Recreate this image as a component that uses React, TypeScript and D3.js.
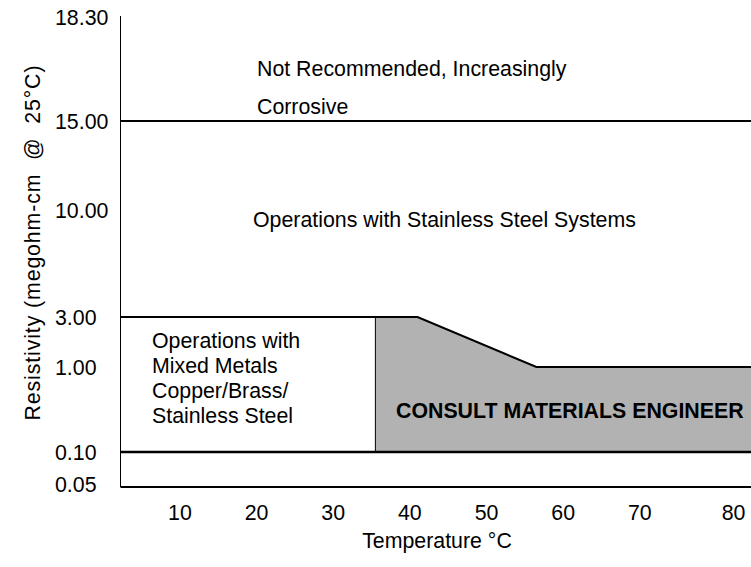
import React from "react";
import { scaleLinear, area, line } from "d3";

const width = 751;
const height = 567;
const plot = { left: 120.5, right: 751, top: 16, bottom: 487 };
const font = "'Liberation Sans', Arial, sans-serif";
const fontSize = 21.33;

// y axis is not linear: labels sit at fixed rows
const yTicks = [0.05, 0.1, 1, 3, 10, 15, 18.3];
const yTickLabels = ["0.05", "0.10", "1.00", "3.00", "10.00", "15.00", "18.30"];
const yRows = [484, 452, 367, 317, 210, 121, 17];

const xTicks = [10, 20, 30, 40, 50, 60, 70, 80];
const xDomain = [2.25, 84.5];

// consult zone outline (temperature, resistivity)
const consultTemps = [35.5, 41, 56.5, 84.5];
const consultResistivity = [3, 3, 1, 1];
const floorResistivity = 0.1;
const stainlessLimit = 15;
const mixedLimit = 3;

function App() {
  const x = scaleLinear().domain(xDomain).range([plot.left, plot.right]);
  const y = scaleLinear().domain(yTicks).range(yRows);

  const zone = consultTemps.map((t, i) => ({ t, r: consultResistivity[i] }));
  const zoneArea = area<{ t: number; r: number }>()
    .x(d => x(d.t))
    .y0(y(floorResistivity))
    .y1(d => y(d.r));
  const topEdge = line<{ t: number; r: number }>()
    .x(d => x(d.t))
    .y(d => y(d.r));
  const edgePts = [{ t: xDomain[0], r: mixedLimit }, ...zone.slice(1)];

  return (
    <svg width={width} height={height} style={{ position: "absolute", left: 0, top: 0, background: "#fff" }} fontFamily={font}>
      <path d={zoneArea(zone) || ""} fill="#b2b2b2" />
      <path d={topEdge(edgePts) || ""} fill="none" stroke="#000" strokeWidth={2} />
      <line x1={x(consultTemps[0])} x2={x(consultTemps[0])} y1={y(floorResistivity)} y2={y(mixedLimit)} stroke="#000" strokeWidth={1} />
      <line x1={plot.left} x2={plot.right} y1={y(stainlessLimit)} y2={y(stainlessLimit)} stroke="#000" strokeWidth={2} />
      <line x1={plot.left} x2={plot.right} y1={y(floorResistivity)} y2={y(floorResistivity)} stroke="#000" strokeWidth={2.5} />

      {/* axes */}
      <line x1={plot.left} x2={plot.left} y1={plot.top} y2={plot.bottom} stroke="#000" strokeWidth={1} />
      <line x1={plot.left} x2={plot.right} y1={plot.bottom} y2={plot.bottom} stroke="#000" strokeWidth={2} />

      {yTicks.map((v, i) => (
        <text key={v} x={55} y={y(v)} dy="0.36em" fontSize={fontSize} fill="#000">{yTickLabels[i]}</text>
      ))}
      {xTicks.map((v, i) => (
        <text key={v} x={x(v) + (i === xTicks.length - 1 ? 17 : 0)} y={520} textAnchor="middle" fontSize={fontSize} fill="#000">{v}</text>
      ))}

      <text x={437} y={548} textAnchor="middle" fontSize={fontSize}>Temperature °C</text>
      <text transform={`translate(40,243) rotate(-90)`} textAnchor="middle" fontSize={fontSize} textLength={355} lengthAdjust="spacing" style={{ whiteSpace: "pre" }}>Resistivity (megohm-cm  @  25°C)</text>

      <text x={257} y={76} fontSize={fontSize}>Not Recommended, Increasingly</text>
      <text x={257} y={114} fontSize={fontSize}>Corrosive</text>
      <text x={253} y={227} fontSize={fontSize}>Operations with Stainless Steel Systems</text>
      {["Operations with", "Mixed Metals", "Copper/Brass/", "Stainless Steel"].map((s, i) => (
        <text key={s} x={152} y={348 + i * 25} fontSize={fontSize}>{s}</text>
      ))}
      <text x={396} y={418} fontSize={fontSize} fontWeight="bold">CONSULT MATERIALS ENGINEER</text>
    </svg>
  );
}

export default App;
